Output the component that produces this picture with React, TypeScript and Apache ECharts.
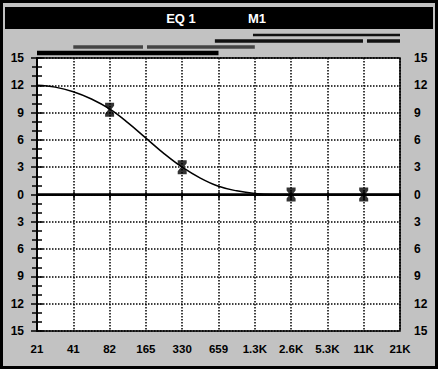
import React, { useEffect, useRef } from "react";
import * as echarts from "echarts";

const freqLabels = ["21", "41", "82", "165", "330", "659", "1.3K", "2.6K", "5.3K", "11K", "21K"];
// response curve: [octave index, dB]
const curvePoints: [number, number][] = [
  [0, 12], [0.5, 11.8], [1, 11.3], [1.5, 10.5], [2, 9.4], [2.5, 7.9], [3, 6.2],
  [3.5, 4.5], [4, 3.0], [4.5, 1.8], [5, 0.9], [5.5, 0.4], [6, 0.1], [6.5, 0], [7, 0], [10, 0],
];
// filter band handles
const markerPoints: [number, number][] = [[2, 9.3], [4, 3.0], [7, 0], [9, 0]];
// band bars above the plot: [row, from, to]
const bandRows = ["r0", "r1", "r2", "r3"];
const bands: [number, number, number][] = [
  [0, 5.95, 10],
  [1, 4.9, 8.98],
  [1, 9.09, 10],
  [2, 1.0, 2.92],
  [2, 3.03, 6.0],
  [3, 0, 5.0],
];
const title1 = "EQ 1";
const title2 = "M1";

const FONT = "'Liberation Sans', Arial, sans-serif";

export default function App() {
  const ref = useRef<HTMLDivElement>(null);
  useEffect(() => {
    document.body.style.margin = "0";
    const chart = echarts.init(ref.current!, undefined, { renderer: "svg" });
    const rowH = [2.5, 3.5, 3.5, 4.5];
    const rowC = ["#111", "#111", "#444", "#000"];
    const yAxisCommon = {
      type: "value",
      min: -15,
      max: 15,
      interval: 3,
      gridIndex: 0,
      axisLine: { show: true, lineStyle: { color: "#000", width: 1.5 } },
      axisTick: { show: true, length: 6, lineStyle: { color: "#000", width: 1.5 } },
      minorTick: { show: true, splitNumber: 3, length: 5, lineStyle: { color: "#000", width: 1.5 } },
      axisLabel: {
        formatter: (v: number) => String(Math.abs(v)),
        color: "#000",
        fontWeight: "bold",
        fontSize: 12,
        fontFamily: FONT,
      },
    };
    chart.setOption({
      animation: false,
      backgroundColor: "#c2c2c2",
      grid: [
        { left: 37, right: 38, top: 58, bottom: 38, show: true, backgroundColor: "#fff", borderColor: "#000", borderWidth: 1.5 },
        { left: 37, right: 38, top: 32, height: 24 },
      ],
      xAxis: [
        {
          type: "value", min: 0, max: 10, interval: 1, gridIndex: 0, position: "bottom",
          axisLine: { show: true, lineStyle: { color: "#000", width: 1.5 } },
          axisTick: { show: true, length: 5, lineStyle: { color: "#000", width: 1.5 } },
          axisLabel: {
            formatter: (v: number) => freqLabels[Math.round(v)] ?? "",
            color: "#000", fontWeight: "bold", fontSize: 11.5, fontFamily: FONT, margin: 12,
          },
          splitLine: { show: true, lineStyle: { color: "#000", type: [1.5, 1.5], width: 1.5 } },
        },
        {
          type: "value", min: 0, max: 10, interval: 1, gridIndex: 0, position: "top",
          axisLine: { show: true, lineStyle: { color: "#000", width: 1.5 } },
          axisTick: { show: true, length: 3, lineStyle: { color: "#000", width: 1.5 } },
          axisLabel: { show: false },
          splitLine: { show: false },
        },
        { type: "value", min: 0, max: 10, gridIndex: 1, show: false },
      ],
      yAxis: [
        {
          ...yAxisCommon,
          position: "left",
          axisLabel: { ...yAxisCommon.axisLabel, margin: 13 },
          splitLine: { show: true, lineStyle: { color: "#000", type: [1.5, 1.5], width: 1.5 } },
        },
        {
          ...yAxisCommon,
          position: "right",
          axisLabel: { ...yAxisCommon.axisLabel, margin: 14 },
          splitLine: { show: false },
        },
        { type: "category", data: bandRows, gridIndex: 1, inverse: true, show: false },
      ],
      graphic: [
        { type: "rect", shape: { x: 1.5, y: 1.5, width: 435, height: 366 }, style: { fill: "none", stroke: "#000", lineWidth: 3 }, z: 100 },
        { type: "rect", shape: { x: 5, y: 7, width: 428, height: 22 }, style: { fill: "#000" } },
        { type: "text", x: 181, y: 18, style: { text: title1, fill: "#fff", font: `bold 13px ${FONT}`, textAlign: "center", textVerticalAlign: "middle" } },
        { type: "text", x: 257, y: 18, style: { text: title2, fill: "#fff", font: `bold 13px ${FONT}`, textAlign: "center", textVerticalAlign: "middle" } },
      ],
      series: [
        {
          type: "line",
          xAxisIndex: 0,
          yAxisIndex: 0,
          data: curvePoints,
          smooth: 0.4,
          showSymbol: false,
          lineStyle: { color: "#000", width: 1.5 },
          markLine: {
            silent: true,
            symbol: "none",
            label: { show: false },
            lineStyle: { color: "#000", type: "solid", width: 2.5 },
            data: [{ yAxis: 0 }],
          },
          z: 3,
        },
        {
          type: "scatter",
          xAxisIndex: 0,
          yAxisIndex: 0,
          data: markerPoints,
          symbol: "path://M0,0L10,0L10,3L6.5,7L10,11L10,14L0,14L0,11L3.5,7L0,3Z",
          symbolSize: [9, 14],
          itemStyle: { color: "#000" },
          z: 5,
        },
        {
          type: "custom",
          xAxisIndex: 2,
          yAxisIndex: 2,
          data: bands,
          encode: { x: [1, 2], y: 0 },
          renderItem: (params: any, api: any) => {
            const row = api.value(0);
            const s = api.coord([api.value(1), row]);
            const e = api.coord([api.value(2), row]);
            const h = rowH[row];
            return {
              type: "rect",
              shape: { x: s[0], y: s[1] - h / 2, width: e[0] - s[0], height: h },
              style: { fill: rowC[row] },
            };
          },
        },
      ],
    });
    return () => chart.dispose();
  }, []);
  return <div ref={ref} style={{ width: 438, height: 369 }} />;
}
